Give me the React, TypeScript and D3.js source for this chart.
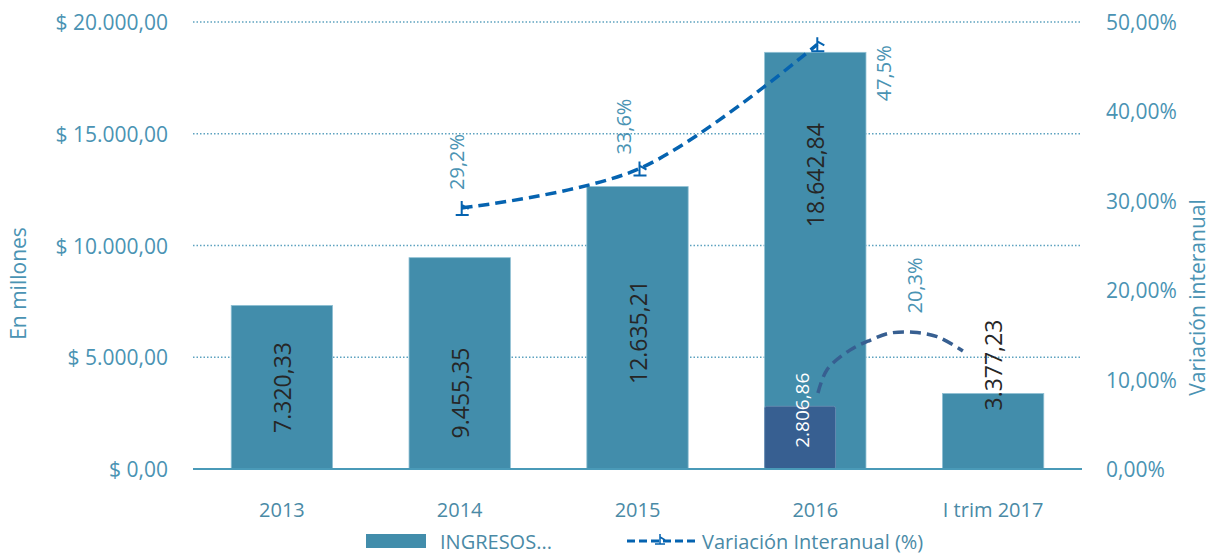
import React from "react";
import * as d3 from "d3";

const categories = ["2013", "2014", "2015", "2016", "I trim 2017"];
const ingresos = [7320.33, 9455.35, 12635.21, 18642.84, 3377.23];
const ingresosLabels = ["7.320,33", "9.455,35", "12.635,21", "18.642,84", "3.377,23"];
// vertical anchor (in $) for each rotated value label
const ingresosLabelAnchor = [3650, 3400, 6130, 13150, 4650];
const variacionCats = ["2014", "2015", "2016"];
const variacion = [29.2, 33.6, 47.5];
const variacionLabels = ["29,2%", "33,6%", "47,5%"];
const quarterCat = "2016";
const quarterValue = 2806.86;
const quarterLabel = "2.806,86";
const quarterVar = 20.3;
const quarterVarLabel = "20,3%";
// annotation arc points: [category index position, percent]
const arcPoints: [number, number][] = [
  [3.015, 8.5], [3.066, 11.1], [3.195, 13.3], [3.308, 14.4], [3.42, 15.2],
  [3.55, 15.3], [3.685, 14.8], [3.83, 13.2],
];
const leftTicks = [0, 5000, 10000, 15000, 20000];
const leftTickLabels = ["$ 0,00", "$ 5.000,00", "$ 10.000,00", "$ 15.000,00", "$ 20.000,00"];
const rightTicks = [0, 10, 20, 30, 40, 50];
const rightTickLabels = ["0,00%", "10,00%", "20,00%", "30,00%", "40,00%", "50,00%"];

const W = 1215, H = 554;
const left = 193, right = 1082, top = 22, bottom = 469;
const FONT = "'Open Sans', sans-serif";
const TEAL = "#4a93b3";
const BAR = "#428dab";
const DARK = "#375f91";
const LINE = "#0563b0";

export default function App() {
  const x = d3.scaleBand<string>().domain(categories).range([left, right]).paddingInner(0.43).paddingOuter(0.215);
  const yL = d3.scaleLinear().domain([0, 20000]).range([bottom, top]);
  const yR = d3.scaleLinear().domain([0, 50]).range([bottom, top]);
  const cx = (c: string) => (x(c) as number) + x.bandwidth() / 2;
  const idxX = (i: number) => left + x.step() * (i + 0.5);

  const line = d3.line<[number, number]>().x(d => d[0]).y(d => d[1]).curve(d3.curveCatmullRom.alpha(0.5));
  const varPts: [number, number][] = variacionCats.map((c, i) => [cx(c) + 2, yR(variacion[i])]);
  const arcLine = d3.line<[number, number]>().x(d => idxX(d[0])).y(d => yR(d[1])).curve(d3.curveCatmullRom.alpha(0.5));

  const marker = "M0,-7 L0,7 M-6,7 L7,7 M0,-3 L7,1";
  const labelOffsets: [number, number][] = [[-5, -46], [-16, -42], [66, 29]];

  return (
    <svg width={W} height={H} style={{ position: "absolute", left: 0, top: 0, fontFamily: FONT }}>
      <rect width={W} height={H} fill="#fff" />
      {leftTicks.slice(1).map(t => (
        <line key={t} x1={left} x2={right} y1={yL(t)} y2={yL(t)} stroke="#5da2bf" strokeWidth={1.5} strokeDasharray="1.5 2" />
      ))}
      {categories.map((c, i) => (
        <rect key={c} x={x(c)} y={yL(ingresos[i])} width={x.bandwidth()} height={bottom - yL(ingresos[i])} fill={BAR} stroke="#8fc0d4" strokeWidth={0.8} />
      ))}
      <rect x={x(quarterCat)} y={yL(quarterValue)} width={x.bandwidth() * 0.7} height={bottom - yL(quarterValue)} rx={2} fill={DARK} stroke="#6f8fb5" strokeWidth={0.8} />
      <line x1={left} x2={right} y1={bottom} y2={bottom} stroke="#4a9ab8" strokeWidth={2} />
      {categories.map((c, i) => (
        <text key={c} transform={`translate(${cx(c)},${yL(ingresosLabelAnchor[i])}) rotate(-90)`} textAnchor="middle" dominantBaseline="central" fontSize={23} fill="#262626">{ingresosLabels[i]}</text>
      ))}
      <text transform={`translate(${cx(quarterCat) - 13},${yL(quarterValue) + 4}) rotate(-90)`} textAnchor="middle" dominantBaseline="central" fontSize={19} fill="#ffffff">{quarterLabel}</text>
      <path d={line(varPts) || ""} fill="none" stroke={LINE} strokeWidth={3.5} strokeDasharray="11 6" />
      {varPts.map((p, i) => (
        <path key={i} d={marker} transform={`translate(${p[0]},${p[1]})`} fill="none" stroke={LINE} strokeWidth={2} />
      ))}
      {varPts.map((p, i) => (
        <text key={i} transform={`translate(${p[0] + labelOffsets[i][0]},${p[1] + labelOffsets[i][1]}) rotate(-90)`} textAnchor="middle" dominantBaseline="central" fontSize={20} fill={TEAL}>{variacionLabels[i]}</text>
      ))}
      <path d={arcLine(arcPoints) || ""} fill="none" stroke={DARK} strokeWidth={3.5} strokeDasharray="11 6" />
      <text transform={`translate(${idxX(3.55) + 1},${yR(quarterVar) - 2}) rotate(-90)`} textAnchor="middle" dominantBaseline="central" fontSize={20} fill={TEAL}>{quarterVarLabel}</text>
      {leftTicks.map((t, i) => (
        <text key={t} x={168} y={yL(t)} textAnchor="end" dominantBaseline="central" fontSize={21} fill={TEAL}>{leftTickLabels[i]}</text>
      ))}
      {rightTicks.map((t, i) => (
        <text key={t} x={1106} y={yR(t)} textAnchor="start" dominantBaseline="central" fontSize={21} fill={TEAL}>{rightTickLabels[i]}</text>
      ))}
      {categories.map(c => (
        <text key={c} x={cx(c)} y={509} textAnchor="middle" dominantBaseline="central" fontSize={20} fill="#4a8aa6">{c}</text>
      ))}
      <text transform={`translate(18,${(top + bottom) / 2 + 38}) rotate(-90)`} textAnchor="middle" dominantBaseline="central" fontSize={21} fill={TEAL}>En millones</text>
      <text transform={`translate(1197,${(top + bottom) / 2 + 52}) rotate(-90)`} textAnchor="middle" dominantBaseline="central" fontSize={21} fill={TEAL}>Variación interanual</text>
      <rect x={366} y={534} width={60} height={14} fill={BAR} />
      <text x={440} y={541} dominantBaseline="central" fontSize={20} fill="#4a8aa6">INGRESOS...</text>
      <line x1={627} x2={697} y1={541} y2={541} stroke={LINE} strokeWidth={3} strokeDasharray="8 4" />
      <path d="M0,-5 L0,5 M-5,5 L5,5 M0,-2 L5,1" transform="translate(660,539)" fill="none" stroke={LINE} strokeWidth={1.5} />
      <text x={702} y={541} dominantBaseline="central" fontSize={20} fill="#4a8aa6">Variación Interanual (%)</text>
    </svg>
  );
}
